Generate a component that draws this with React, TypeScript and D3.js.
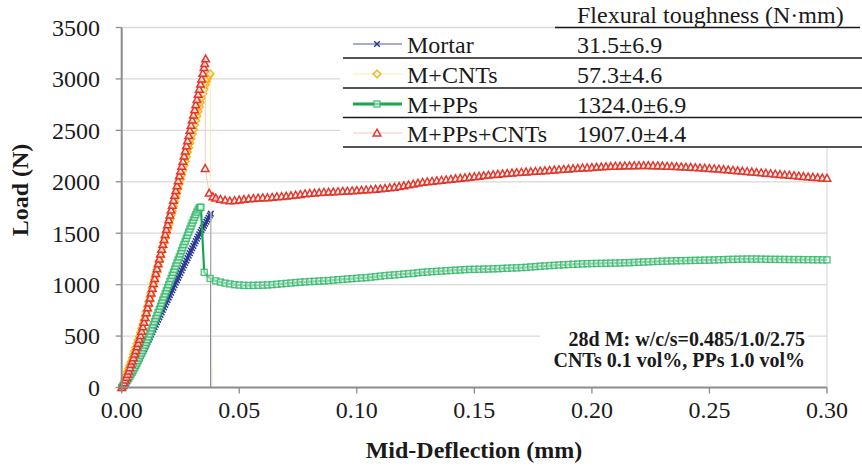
import React from 'react';
import * as d3 from 'd3';

const W = 862;
const H = 468;

const xTicks = [0, 0.05, 0.1, 0.15, 0.2, 0.25, 0.3];
const xTickLabels = ['0.00', '0.05', '0.10', '0.15', '0.20', '0.25', '0.30'];
const yTicks = [0, 500, 1000, 1500, 2000, 2500, 3000, 3500];

const seriesNames = ['Mortar', 'M+CNTs', 'M+PPs', 'M+PPs+CNTs'];
const toughness = ['31.5±6.9', '57.3±4.6', '1324.0±6.9', '1907.0±4.4'];

const mortar: [number, number][] = [
  [0, 0], [0.0005, 15], [0.001, 30], [0.0015, 47], [0.002, 65], [0.0025, 82], [0.003, 100], [0.0035, 119],
  [0.004, 138], [0.0045, 158], [0.005, 178], [0.0055, 199], [0.006, 220], [0.0065, 241], [0.007, 262],
  [0.0075, 284], [0.008, 306], [0.0085, 328], [0.009, 350], [0.0095, 373], [0.010, 396], [0.0105, 419],
  [0.011, 442], [0.0115, 466], [0.012, 490], [0.0125, 514], [0.013, 538], [0.0135, 562], [0.014, 586],
  [0.0145, 610], [0.015, 634], [0.0155, 658], [0.016, 682], [0.0165, 706], [0.017, 730], [0.0175, 754],
  [0.018, 778], [0.0185, 802], [0.019, 826], [0.0195, 850], [0.020, 874], [0.0205, 898], [0.021, 922],
  [0.0215, 946], [0.022, 970], [0.0225, 994], [0.023, 1018], [0.0235, 1042], [0.024, 1066], [0.0245, 1090],
  [0.025, 1114], [0.0255, 1138], [0.026, 1162], [0.0265, 1186], [0.027, 1210], [0.0275, 1234], [0.028, 1258],
  [0.0285, 1282], [0.029, 1306], [0.0295, 1330], [0.030, 1354], [0.0305, 1377], [0.031, 1400], [0.0315, 1423],
  [0.032, 1446], [0.0325, 1468], [0.033, 1490], [0.0335, 1511], [0.034, 1532], [0.0345, 1552], [0.035, 1572],
  [0.0355, 1592], [0.036, 1612], [0.0365, 1631], [0.037, 1650], [0.0375, 1672], [0.0379, 1690], [0.0379, 0],
];

const cnts: [number, number][] = [
  [0, 0], [0.0005, 27], [0.001, 55], [0.0015, 87], [0.002, 120], [0.0025, 152], [0.003, 185], [0.0035, 217],
  [0.004, 250], [0.0045, 285], [0.005, 320], [0.0055, 355], [0.006, 390], [0.0065, 425], [0.007, 460],
  [0.0075, 497], [0.008, 535], [0.0085, 575], [0.009, 615], [0.0095, 655], [0.010, 695], [0.0105, 740],
  [0.011, 785], [0.0115, 832], [0.012, 880], [0.0125, 924], [0.013, 968], [0.0135, 1012], [0.014, 1056],
  [0.0145, 1100], [0.015, 1144], [0.0155, 1188], [0.016, 1232], [0.0165, 1276], [0.017, 1320], [0.0175, 1364],
  [0.018, 1408], [0.0185, 1452], [0.019, 1496], [0.0195, 1540], [0.020, 1584], [0.0205, 1628], [0.021, 1672],
  [0.0215, 1716], [0.022, 1760], [0.0225, 1804], [0.023, 1848], [0.0235, 1892], [0.024, 1936], [0.0245, 1980],
  [0.025, 2024], [0.0255, 2068], [0.026, 2112], [0.0265, 2156], [0.027, 2200], [0.0275, 2244], [0.028, 2288],
  [0.0285, 2332], [0.029, 2376], [0.0295, 2420], [0.030, 2464], [0.0305, 2508], [0.031, 2552], [0.0315, 2596],
  [0.032, 2640], [0.0325, 2684], [0.033, 2728], [0.0335, 2772], [0.034, 2816], [0.0345, 2858], [0.035, 2900],
  [0.0355, 2940], [0.036, 2975], [0.0365, 3005], [0.037, 3030], [0.0376, 3050], [0.0384, 0],
];

const pps: [number, number][] = [
  [0, 0], [0.0005, 12], [0.001, 25], [0.0015, 40], [0.002, 55], [0.0025, 72], [0.003, 90], [0.0035, 110],
  [0.004, 130], [0.0045, 150], [0.005, 170], [0.0055, 192], [0.006, 215], [0.0065, 238], [0.007, 262],
  [0.0075, 286], [0.008, 310], [0.0085, 335], [0.009, 360], [0.0095, 386], [0.010, 412], [0.0105, 438],
  [0.011, 465], [0.0115, 492], [0.012, 520], [0.0125, 550], [0.013, 580], [0.0135, 610], [0.014, 640],
  [0.0145, 670], [0.015, 700], [0.0155, 730], [0.016, 760], [0.0165, 790], [0.017, 820], [0.0175, 850],
  [0.018, 880], [0.0185, 910], [0.019, 940], [0.0195, 970], [0.020, 1000], [0.0205, 1030], [0.021, 1060],
  [0.0215, 1090], [0.022, 1120], [0.0225, 1150], [0.023, 1180], [0.0235, 1210], [0.024, 1240], [0.0245, 1270],
  [0.025, 1300], [0.0255, 1330], [0.026, 1360], [0.0265, 1390], [0.027, 1420], [0.0275, 1450], [0.028, 1480],
  [0.0285, 1510], [0.029, 1540], [0.0295, 1570], [0.030, 1600], [0.0305, 1628], [0.031, 1655], [0.0315, 1680],
  [0.032, 1705], [0.0325, 1727], [0.033, 1745], [0.0334, 1752], [0.0337, 1752],
  [0.0351, 1120], [0.0376, 1060], [0.040, 1037], [0.042, 1025], [0.044, 1015], [0.046, 1007], [0.048, 1000],
  [0.050, 996], [0.052, 993], [0.054, 992], [0.056, 993], [0.058, 994], [0.060, 995], [0.062, 997], [0.064, 1000],
  [0.066, 1004], [0.068, 1008], [0.070, 1012], [0.072, 1016], [0.074, 1020], [0.076, 1024], [0.078, 1027],
  [0.080, 1030], [0.082, 1032], [0.084, 1035], [0.086, 1037], [0.088, 1040], [0.090, 1044], [0.092, 1048],
  [0.094, 1051], [0.096, 1055], [0.098, 1058], [0.100, 1062], [0.102, 1065], [0.104, 1068], [0.106, 1073],
  [0.108, 1078], [0.110, 1083], [0.112, 1088], [0.114, 1092], [0.116, 1095], [0.118, 1099], [0.120, 1103],
  [0.122, 1107], [0.124, 1110], [0.126, 1115], [0.128, 1120], [0.130, 1123], [0.132, 1126], [0.134, 1129],
  [0.136, 1132], [0.138, 1135], [0.140, 1138], [0.142, 1140], [0.144, 1143], [0.146, 1146], [0.148, 1148],
  [0.150, 1149], [0.152, 1150], [0.154, 1151], [0.156, 1152], [0.158, 1154], [0.160, 1155], [0.162, 1158],
  [0.164, 1160], [0.166, 1162], [0.168, 1163], [0.170, 1166], [0.172, 1168], [0.174, 1172], [0.176, 1175],
  [0.178, 1179], [0.180, 1182], [0.182, 1185], [0.184, 1188], [0.186, 1191], [0.188, 1193], [0.190, 1196],
  [0.192, 1198], [0.194, 1200], [0.196, 1202], [0.198, 1204], [0.200, 1205], [0.202, 1206], [0.204, 1207],
  [0.206, 1208], [0.208, 1209], [0.210, 1210], [0.212, 1211], [0.214, 1213], [0.216, 1214], [0.218, 1216],
  [0.220, 1218], [0.222, 1220], [0.224, 1222], [0.226, 1224], [0.228, 1226], [0.230, 1228], [0.232, 1229],
  [0.234, 1231], [0.236, 1232], [0.238, 1233], [0.240, 1234], [0.242, 1235], [0.244, 1236], [0.246, 1237],
  [0.248, 1238], [0.250, 1239], [0.252, 1240], [0.254, 1242], [0.256, 1243], [0.258, 1245], [0.260, 1246],
  [0.262, 1247], [0.264, 1248], [0.266, 1249], [0.268, 1249], [0.270, 1249], [0.272, 1248], [0.274, 1247],
  [0.276, 1246], [0.278, 1246], [0.280, 1245], [0.282, 1245], [0.284, 1244], [0.286, 1244], [0.288, 1244],
  [0.290, 1243], [0.292, 1243], [0.294, 1242], [0.296, 1242], [0.298, 1241], [0.300, 1241],
];

const ppsCnts: [number, number][] = [
  [0, 0], [0.0005, 20], [0.001, 45], [0.0015, 72], [0.002, 100], [0.0025, 130], [0.003, 160], [0.0035, 192],
  [0.004, 225], [0.0045, 257], [0.005, 290], [0.0055, 325], [0.006, 360], [0.0065, 395], [0.007, 430],
  [0.0075, 468], [0.008, 505], [0.0085, 548], [0.009, 590], [0.0095, 635], [0.010, 680], [0.0105, 727],
  [0.011, 775], [0.0115, 822], [0.012, 870], [0.0125, 918], [0.013, 965], [0.0135, 1012], [0.014, 1060],
  [0.0145, 1108], [0.015, 1155], [0.0155, 1202], [0.016, 1250], [0.0165, 1298], [0.017, 1345], [0.0175, 1392],
  [0.018, 1440], [0.0185, 1488], [0.019, 1535], [0.0195, 1582], [0.020, 1630], [0.0205, 1678], [0.021, 1725],
  [0.0215, 1772], [0.022, 1820], [0.0225, 1868], [0.023, 1915], [0.0235, 1962], [0.024, 2010], [0.0245, 2058],
  [0.025, 2105], [0.0255, 2152], [0.026, 2200], [0.0265, 2250], [0.027, 2300], [0.0275, 2350], [0.028, 2400],
  [0.0285, 2450], [0.029, 2500], [0.0295, 2550], [0.030, 2600], [0.0305, 2650], [0.031, 2700], [0.0315, 2750],
  [0.032, 2800], [0.0325, 2850], [0.033, 2900], [0.0335, 2950], [0.034, 3000], [0.0345, 3055], [0.035, 3110],
  [0.0353, 3150], [0.0357, 3195],
  [0.0355, 2130], [0.0372, 1890], [0.0388, 1855], [0.040, 1842], [0.042, 1830], [0.044, 1822], [0.046, 1815],
  [0.048, 1818], [0.050, 1824], [0.052, 1829], [0.054, 1834], [0.056, 1838], [0.058, 1842], [0.060, 1845],
  [0.062, 1846], [0.064, 1850], [0.066, 1855], [0.068, 1857], [0.070, 1861], [0.072, 1866], [0.074, 1871],
  [0.076, 1876], [0.078, 1884], [0.080, 1888], [0.082, 1890], [0.084, 1895], [0.086, 1898], [0.088, 1900],
  [0.090, 1902], [0.092, 1905], [0.094, 1908], [0.096, 1910], [0.098, 1913], [0.100, 1916], [0.102, 1919],
  [0.104, 1922], [0.106, 1925], [0.108, 1928], [0.110, 1932], [0.112, 1936], [0.114, 1942], [0.116, 1948],
  [0.118, 1955], [0.120, 1962], [0.122, 1970], [0.124, 1978], [0.126, 1987], [0.128, 1995], [0.130, 2000],
  [0.132, 2005], [0.134, 2010], [0.136, 2015], [0.138, 2020], [0.140, 2025], [0.142, 2030], [0.144, 2035],
  [0.146, 2040], [0.148, 2045], [0.150, 2050], [0.152, 2055], [0.154, 2060], [0.156, 2065], [0.158, 2070],
  [0.160, 2074], [0.162, 2078], [0.164, 2082], [0.166, 2086], [0.168, 2090], [0.170, 2093], [0.172, 2096],
  [0.174, 2099], [0.176, 2102], [0.178, 2105], [0.180, 2108], [0.182, 2112], [0.184, 2115], [0.186, 2119],
  [0.188, 2122], [0.190, 2125], [0.192, 2128], [0.194, 2131], [0.196, 2134], [0.198, 2137], [0.200, 2140],
  [0.202, 2143], [0.204, 2145], [0.206, 2148], [0.208, 2150], [0.210, 2152], [0.212, 2153], [0.214, 2155],
  [0.216, 2156], [0.218, 2157], [0.220, 2158], [0.222, 2158], [0.224, 2158], [0.226, 2157], [0.228, 2156],
  [0.230, 2154], [0.232, 2152], [0.234, 2150], [0.236, 2148], [0.238, 2146], [0.240, 2143], [0.242, 2141],
  [0.244, 2138], [0.246, 2136], [0.248, 2133], [0.250, 2130], [0.252, 2127], [0.254, 2124], [0.256, 2120],
  [0.258, 2116], [0.260, 2112], [0.262, 2108], [0.264, 2104], [0.266, 2100], [0.268, 2096], [0.270, 2092],
  [0.272, 2088], [0.274, 2084], [0.276, 2080], [0.278, 2076], [0.280, 2072], [0.282, 2068], [0.284, 2064],
  [0.286, 2060], [0.288, 2056], [0.290, 2052], [0.292, 2048], [0.294, 2045], [0.296, 2041], [0.298, 2038],
  [0.300, 2035],
];

const allSeries = [mortar, cnts, pps, ppsCnts];

const styles = [
  { line: '#4b5aa3', lw: 1, marker: 'x', mc: '#2b3990' },
  { line: '#fde9b5', lw: 1, marker: 'diamond', mc: '#f9b416' },
  { line: '#17a750', lw: 2.2, marker: 'square', mc: '#2bb564' },
  { line: '#f6c9c5', lw: 1, marker: 'triangle', mc: '#e2372d' },
];

const FONT = '"Liberation Serif", "Times New Roman", "DejaVu Serif", serif';

function Marker({ kind, color, x, y }: { kind: string; color: string; x: number; y: number }) {
  if (kind === 'x') {
    return (
      <path d={`M${x - 2.8},${y - 2.8}L${x + 2.8},${y + 2.8}M${x - 2.8},${y + 2.8}L${x + 2.8},${y - 2.8}`}
        stroke={color} strokeWidth={1.5} fill="none" />
    );
  }
  if (kind === 'diamond') {
    return <path d={`M${x},${y - 3.8}L${x + 3.8},${y}L${x},${y + 3.8}L${x - 3.8},${y}Z`} stroke={color} strokeWidth={1.5} fill="white" fillOpacity={0.6} />;
  }
  if (kind === 'square') {
    return <rect x={x - 3} y={y - 3} width={6} height={6} stroke={color} strokeWidth={1.4} fill="white" fillOpacity={0.5} strokeOpacity={0.8} />;
  }
  return <path d={`M${x},${y - 3.8}L${x + 3.8},${y + 3}L${x - 3.8},${y + 3}Z`} stroke={color} strokeWidth={1.5} fill="white" fillOpacity={0.6} />;
}

export default function App() {
  const x = d3.scaleLinear().domain([0, 0.3]).range([121.7, 827]);
  const y = d3.scaleLinear().domain([0, 3500]).range([387.5, 27.5]);
  const line = d3.line<[number, number]>().x((d) => x(d[0])).y((d) => y(d[1]));

  const legendRowsY = [44, 74, 104, 133];
  const legendSepY = [58, 88, 117.5, 147];
  const txt = { fontFamily: FONT };

  return (
    <svg width={W} height={H} style={{ position: 'absolute', left: 0, top: 0, background: 'white', fontFamily: FONT }}>
      <rect x={0} y={0} width={W} height={H} fill="white" />
      {yTicks.filter((t) => t > 0).map((t) => (
        <line key={'g' + t} x1={x(0)} x2={x(0.3)} y1={y(t)} y2={y(t)} stroke="#d9d9d9" strokeWidth={1.3} />
      ))}
      <line x1={x(0.3)} x2={x(0.3)} y1={y(3500)} y2={y(0) + 6} stroke="#d4d4d4" strokeWidth={1} />

      {allSeries.map((s, i) => (
        <g key={'s' + i}>
          <path d={line(s) || ''} fill="none" stroke={styles[i].line} strokeWidth={styles[i].lw} />
          {s.map((d, j) =>
            d[1] === 0 && d[0] > 0 ? null : (
              <Marker key={j} kind={styles[i].marker} color={styles[i].mc} x={x(d[0])} y={y(d[1])} />
            )
          )}
        </g>
      ))}

      <line x1={x(0)} x2={x(0)} y1={y(3500)} y2={y(0)} stroke="#8c8c8c" strokeWidth={2} />
      <line x1={x(0) - 1} x2={x(0.3)} y1={y(0)} y2={y(0)} stroke="#8c8c8c" strokeWidth={2} />
      {yTicks.map((t) => (
        <g key={'yt' + t}>
          <line x1={x(0) - 6} x2={x(0)} y1={y(t)} y2={y(t)} stroke="#8c8c8c" strokeWidth={1.3} />
          <text style={txt} x={100} y={y(t)} dy="0.35em" textAnchor="end" fontSize={24} fill="#1a1a1a">{t}</text>
        </g>
      ))}
      {xTicks.map((t, i) => (
        <g key={'xt' + t}>
          <line x1={x(t)} x2={x(t)} y1={y(0)} y2={y(0) + 6} stroke="#8c8c8c" strokeWidth={1.3} />
          <text style={txt} x={x(t)} y={418} textAnchor="middle" fontSize={24} fill="#1a1a1a">{xTickLabels[i]}</text>
        </g>
      ))}
      <text style={txt} x={474} y={458} textAnchor="middle" fontSize={24} fontWeight="bold" fill="#1a1a1a">Mid-Deflection (mm)</text>
      <text style={txt} transform="translate(28,190) rotate(-90)" textAnchor="middle" fontSize={24} fontWeight="bold" fill="#1a1a1a">Load (N)</text>

      <rect x={540} y={326} width={268} height={48} fill="white" />
      <text style={txt} x={805} y={346} textAnchor="end" fontSize={20} fontWeight="bold" fill="#1a1a1a">28d M: w/c/s=0.485/1.0/2.75</text>
      <text style={txt} x={805} y={367} textAnchor="end" fontSize={20} fontWeight="bold" fill="#1a1a1a">CNTs 0.1 vol%, PPs 1.0 vol%</text>

      <rect x={340} y={29} width={522} height={118} fill="white" />
      <text style={txt} x={577} y={23} fontSize={24} fill="#1a1a1a">Flexural toughness (N·mm)</text>
      <line x1={555} x2={860} y1={27.5} y2={27.5} stroke="#1a1a1a" strokeWidth={1.5} />
      {seriesNames.map((name, i) => (
        <g key={'lg' + i}>
          <line x1={353} x2={402} y1={legendRowsY[i]} y2={legendRowsY[i]} stroke={styles[i].line} strokeWidth={i === 2 ? 3 : 1.2} />
          <Marker kind={styles[i].marker} color={styles[i].mc} x={377} y={legendRowsY[i]} />
          <text style={txt} x={407} y={legendRowsY[i] + 9} fontSize={24} fill="#1a1a1a">{name}</text>
          <text style={txt} x={577} y={legendRowsY[i] + 9} fontSize={24} fill="#1a1a1a">{toughness[i]}</text>
          <line x1={343} x2={862} y1={legendSepY[i]} y2={legendSepY[i]} stroke="#1a1a1a" strokeWidth={1.5} />
        </g>
      ))}
    </svg>
  );
}
